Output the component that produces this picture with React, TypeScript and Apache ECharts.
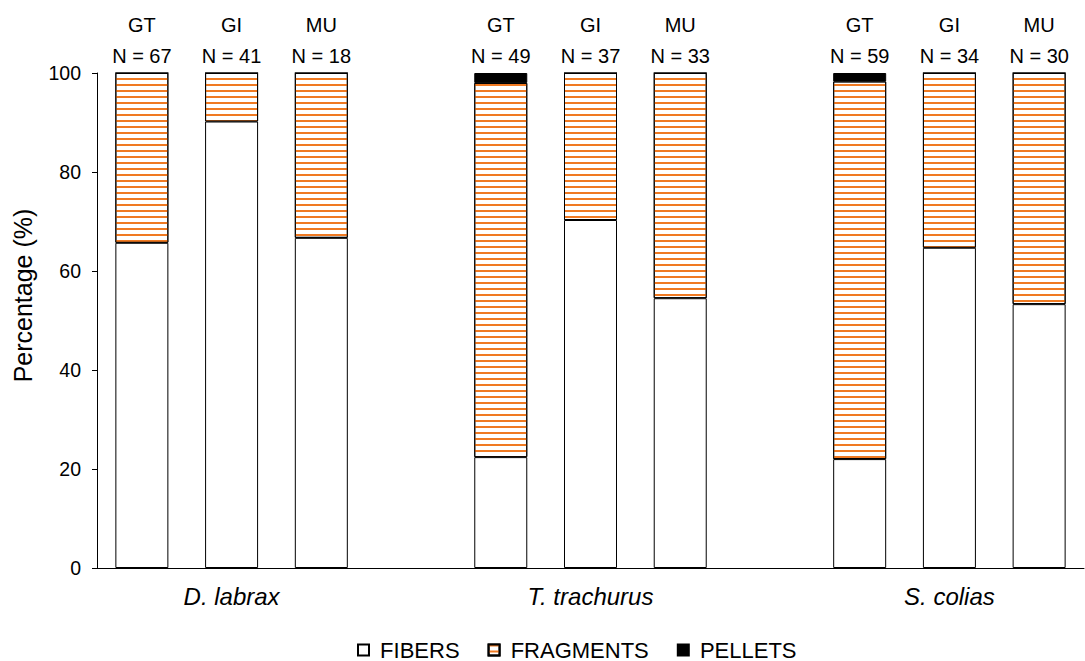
import React, { useEffect, useRef } from "react";
import * as echarts from "echarts";

const species = ["D. labrax", "T. trachurus", "S. colias"];
const tissues = ["GT", "GI", "MU"];
const sampleSizes = [
  [67, 41, 18],
  [49, 37, 33],
  [59, 34, 30],
];
const fibers = [65.7, 90.2, 66.7, 22.4, 70.3, 54.5, 22.0, 64.7, 53.3];
const fragments = [34.3, 9.8, 33.3, 75.6, 29.7, 45.5, 76.3, 35.3, 46.7];
const pellets = [0, 0, 0, 2.0, 0, 0, 1.7, 0, 0];
const yTicks = [0, 20, 40, 60, 80, 100];

const FONT = "'Liberation Sans', Arial, sans-serif";

export default function App() {
  const ref = useRef<HTMLDivElement>(null);
  useEffect(() => {
    if (!ref.current) return;
    const chart = echarts.init(ref.current, undefined, { renderer: "svg" });

    const bottomCats: string[] = [];
    const topCats: string[] = [];
    const fib: (number | null)[] = [];
    const frag: (number | null)[] = [];
    const pel: (number | null)[] = [];
    species.forEach((sp, si) => {
      if (si > 0) {
        bottomCats.push("sp" + si);
        topCats.push("sp" + si);
        fib.push(null);
        frag.push(null);
        pel.push(null);
      }
      tissues.forEach((t, ti) => {
        const k = si * 3 + ti;
        bottomCats.push(ti === 1 ? sp : "x" + k);
        topCats.push(t + "|" + sampleSizes[si][ti]);
        fib.push(fibers[k]);
        frag.push(fragments[k]);
        pel.push(pellets[k]);
      });
    });

    chart.setOption({
      animation: false,
      textStyle: { fontFamily: FONT },
      grid: { left: 97, right: 1, top: 73, bottom: 93, containLabel: false },
      legend: {
        left: 352,
        top: 634,
        icon: "rect",
        itemWidth: 11,
        itemHeight: 11,
        itemGap: 28,
        formatter: (n: string) => " " + n,
        textStyle: { fontSize: 22, color: "#000", fontFamily: FONT },
        data: ["FIBERS", "FRAGMENTS", "PELLETS"],
      },
      xAxis: [
        {
          type: "category",
          data: bottomCats,
          axisLine: { lineStyle: { color: "#000", width: 1 } },
          axisTick: { show: false },
          axisLabel: {
            interval: 0,
            margin: 16,
            fontSize: 24,
            fontStyle: "italic",
            color: "#000",
            fontFamily: FONT,
            formatter: (v: string) => (species.includes(v) ? v : ""),
          },
        },
        {
          type: "category",
          position: "top",
          data: topCats,
          axisLine: { show: false },
          axisTick: { show: false },
          axisLabel: {
            interval: 0,
            margin: 2,
            fontSize: 20,
            lineHeight: 31,
            color: "#000",
            fontFamily: FONT,
            formatter: (v: string) => {
              if (!v.includes("|")) return "";
              const [t, n] = v.split("|");
              return t + "\nN = " + n;
            },
          },
        },
      ],
      yAxis: {
        type: "value",
        min: 0,
        max: 100,
        interval: 20,
        name: "Percentage (%)",
        nameLocation: "middle",
        nameGap: 62,
        nameTextStyle: {
          fontSize: 25,
          color: "#000",
          fontFamily: FONT,
          padding: [0, 0, 0, 50],
        },
        splitLine: { show: false },
        axisLine: { show: true, lineStyle: { color: "#000", width: 1 } },
        axisTick: { show: true, length: 5, lineStyle: { color: "#000" } },
        axisLabel: {
          margin: 16,
          fontSize: 19.5,
          color: "#000",
          fontFamily: FONT,
          formatter: (v: number) => (yTicks.includes(v) ? String(v) : ""),
        },
      },
      series: [
        {
          name: "FIBERS",
          type: "bar",
          stack: "s",
          barWidth: 53,
          data: fib,
          itemStyle: { color: "#fff", borderColor: "#000", borderWidth: 1 },
        },
        {
          name: "FRAGMENTS",
          type: "bar",
          stack: "s",
          barWidth: 53,
          data: frag,
          itemStyle: {
            color: "#fff",
            borderColor: "#000",
            borderWidth: 1,
            decal: {
              symbol: "rect",
              symbolSize: 1,
              dashArrayX: [10, 0],
              dashArrayY: [2, 4],
              rotation: 0,
              color: "#F07A22",
            },
          },
        },
        {
          name: "PELLETS",
          type: "bar",
          stack: "s",
          barWidth: 53,
          data: pel,
          itemStyle: { color: "#000", borderColor: "#000", borderWidth: 1 },
        },
      ],
    });
    return () => chart.dispose();
  }, []);
  return (
    <div
      ref={ref}
      style={{ position: "absolute", left: 0, top: 0, width: 1085, height: 661 }}
    />
  );
}
